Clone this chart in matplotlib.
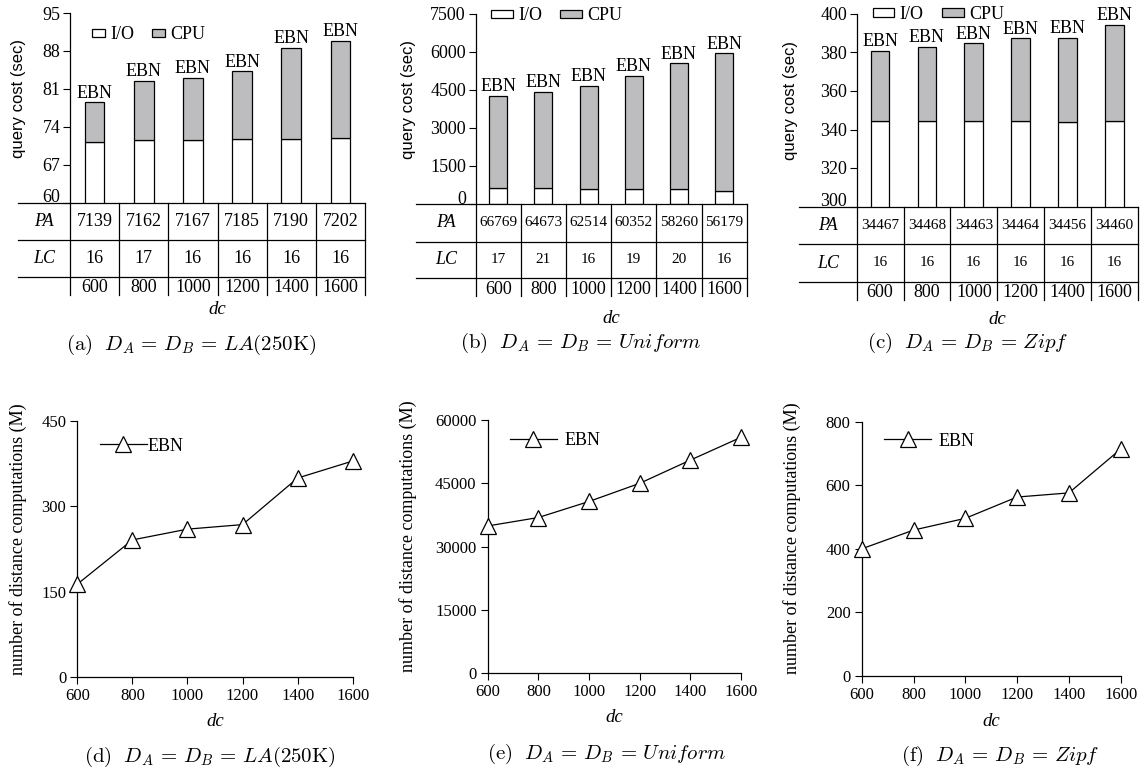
import numpy as np
import matplotlib
matplotlib.use("Agg")
import matplotlib.pyplot as plt
from matplotlib.patches import Patch
from matplotlib.transforms import blended_transform_factory

plt.rcParams['font.family'] = ['Liberation Serif', 'DejaVu Serif']
plt.rcParams['mathtext.fontset'] = 'cm'

# x values shared by every panel
dc = [600, 800, 1000, 1200, 1400, 1600]

# query cost (sec): I/O part and total bar height
io_la = [71.2, 71.5, 71.5, 71.8, 71.8, 71.9]
total_la = [78.5, 82.5, 83.0, 84.2, 88.6, 89.9]
io_uni = [634, 618, 594, 580, 575, 527]
total_uni = [4279, 4437, 4675, 5056, 5547, 5943]
io_zipf = [344.3, 344.3, 344.3, 344.3, 344.0, 344.3]
total_zipf = [380.8, 383.1, 384.7, 387.3, 387.6, 394.4]

# table rows under the bar charts
pa_la = [7139, 7162, 7167, 7185, 7190, 7202]
lc_la = [16, 17, 16, 16, 16, 16]
pa_uni = [66769, 64673, 62514, 60352, 58260, 56179]
lc_uni = [17, 21, 16, 19, 20, 16]
pa_zipf = [34467, 34468, 34463, 34464, 34456, 34460]
lc_zipf = [16, 16, 16, 16, 16, 16]

# number of distance computations (M)
dist_la = [163, 241, 260, 268, 350, 380]
dist_uni = [34900, 36900, 40700, 45000, 50500, 55900]
dist_zipf = [400, 459, 496, 563, 576, 714]

W, H = 1144, 769
fig = plt.figure(figsize=(W / 100, H / 100), dpi=100)


def px_axes(l, t, r, b):
    return fig.add_axes([l / W, 1 - b / H, (r - l) / W, (b - t) / H])


def bar_panel(rect, io, total, pa, lc, ylim, yticks, num_fs, tab_left, leg_xy, hl, hh,
              row_px, label_px):
    ax = px_axes(*rect)
    h = rect[3] - rect[1]
    x = np.arange(len(dc))
    io = np.array(io)
    total = np.array(total)
    ax.bar(x, io, 0.4, color='white', edgecolor='black', linewidth=0.9)
    ax.bar(x, total - io, 0.4, bottom=io, color='#bdbdbf', edgecolor='black', linewidth=0.9)
    for xi, t in zip(x, total):
        ax.annotate('EBN', (xi, t), xytext=(0, 0.5), textcoords='offset points',
                    ha='center', va='bottom', fontsize=13)
    ax.set_xlim(-0.5, len(dc) - 0.5)
    ax.set_ylim(*ylim)
    ax.set_yticks(yticks)
    ax.set_xticks([])
    ax.tick_params(axis='y', direction='out', length=5, width=0.8, labelsize=13, pad=2)
    ax.yaxis.get_major_ticks()[0].label1.set_va('baseline')
    for s in ['top', 'right', 'bottom']:
        ax.spines[s].set_visible(False)
    ax.spines['left'].set_linewidth(0.9)
    ax.set_ylabel('query cost (sec)', family=['Liberation Sans', 'DejaVu Sans'], fontsize=12)
    ax.yaxis.set_label_coords((label_px + 8 - rect[0]) / (rect[2] - rect[0]), 0.55)

    # table of PA / LC values below the axis
    tr = blended_transform_factory(ax.transData, ax.transAxes)
    r1, r2, r3 = [-p / h for p in row_px]
    kw = dict(color='black', lw=0.9, transform=tr, clip_on=False)
    for yy in [0, r1, r2]:
        ax.plot([tab_left, len(dc) - 0.5], [yy, yy], **kw)
    for k in range(len(dc) + 1):
        ax.plot([k - 0.5, k - 0.5], [0, r3], **kw)
    ax.text((tab_left - 0.5) / 2, r1 / 2, 'PA', style='italic', fontsize=13,
            ha='center', va='center', transform=tr)
    ax.text((tab_left - 0.5) / 2, (r1 + r2) / 2, 'LC', style='italic', fontsize=13,
            ha='center', va='center', transform=tr)
    for xi, p, l, d in zip(x, pa, lc, dc):
        ax.text(xi, r1 / 2, str(p), fontsize=num_fs, ha='center', va='center', transform=tr)
        ax.text(xi, (r1 + r2) / 2, str(l), fontsize=num_fs, ha='center', va='center', transform=tr)
        ax.text(xi, (r2 + r3) / 2 - 0.01, str(d), fontsize=13, ha='center', va='center', transform=tr)

    handles = [Patch(facecolor='white', edgecolor='black', linewidth=0.9, label='I/O'),
               Patch(facecolor='#bdbdbf', edgecolor='black', linewidth=0.9, label='CPU')]
    ax.legend(handles=handles, loc='center left', bbox_to_anchor=leg_xy, ncol=2, frameon=False,
              fontsize=13, handlelength=hl, handleheight=hh, handletextpad=0.3,
              columnspacing=1.0, borderpad=0, borderaxespad=0)
    return ax


def line_panel(rect, vals, yticks, leg_xy, textpad, label_px):
    ax = px_axes(*rect)
    ax.plot(dc, vals, color='black', lw=0.9, marker='^', ms=12, mfc='white',
            mec='black', mew=0.9, clip_on=False, zorder=3, label='EBN')
    ax.set_xlim(dc[0], dc[-1])
    ax.set_ylim(yticks[0], yticks[-1])
    ax.set_xticks(dc)
    ax.set_yticks(yticks)
    ax.tick_params(direction='out', length=5, width=0.8, labelsize=12, pad=3)
    for s in ['top', 'right']:
        ax.spines[s].set_visible(False)
    for s in ['left', 'bottom']:
        ax.spines[s].set_linewidth(0.9)
    ax.set_ylabel('number of distance computations (M)', fontsize=13)
    ax.yaxis.set_label_coords((label_px + 9 - rect[0]) / (rect[2] - rect[0]), 0.54)
    ax.legend(loc='center left', bbox_to_anchor=leg_xy, frameon=False, fontsize=13,
              handlelength=2.6, handletextpad=textpad, borderpad=0, borderaxespad=0)
    return ax


bar_panel((70, 13, 365, 202.5), io_la, total_la, pa_la, lc_la, (60, 95),
          [60, 67, 74, 81, 88, 95], 13, -1.56, (0.075, 0.884), 0.7, 0.3,
          (37, 74.5, 92.5), 18)
bar_panel((475.7, 14, 746.7, 204), io_uni, total_uni, pa_uni, lc_uni, (0, 7500),
          [0, 1500, 3000, 4500, 6000, 7500], 11, -1.82, (0.056, 0.99), 1.2, 0.36,
          (37.5, 74.3, 92), 408)
bar_panel((856.7, 14, 1137.7, 206.5), io_zipf, total_zipf, pa_zipf, lc_zipf, (300, 400),
          [300, 320, 340, 360, 380, 400], 11, -1.73, (0.057, 0.996), 1.2, 0.36,
          (37.8, 75.2, 93.5), 790)

line_panel((77.3, 421.3, 352.7, 676.7), dist_la, [0, 150, 300, 450], (0.082, 0.903), 0.05, 18)
line_panel((487.7, 420, 741, 673.3), dist_uni, [0, 15000, 30000, 45000, 60000], (0.088, 0.918), 0.4, 408)
line_panel((861.7, 421.7, 1120.7, 676), dist_zipf, [0, 200, 400, 600, 800], (0.087, 0.924), 0.4, 792)

# x-axis names and sub-figure captions
for (xp, yp) in [(217, 310), (611, 318), (997, 320), (215, 721), (614, 718), (991, 722)]:
    fig.text(xp / W, 1 - yp / H, 'dc', style='italic', fontsize=13.5, ha='center', va='center')

captions = [
    (191, 345, r'$\mathrm{(a)}\ \ D_A\,=\,D_B\,=\,LA(250\mathrm{K})$'),
    (581, 343, r'$\mathrm{(b)}\ \ D_A\,=\,D_B\,=\,Uniform$'),
    (968, 343, r'$\mathrm{(c)}\ \ D_A\,=\,D_B\,=\,Zipf$'),
    (210, 757, r'$\mathrm{(d)}\ \ D_A\,=\,D_B\,=\,LA(250\mathrm{K})$'),
    (607, 754, r'$\mathrm{(e)}\ \ D_A\,=\,D_B\,=\,Uniform$'),
    (1000, 756, r'$\mathrm{(f)}\ \ D_A\,=\,D_B\,=\,Zipf$'),
]
for xp, yp, s in captions:
    fig.text(xp / W, 1 - yp / H, s, fontsize=15, ha='center', va='center')

fig.savefig('out.png', dpi=100)
